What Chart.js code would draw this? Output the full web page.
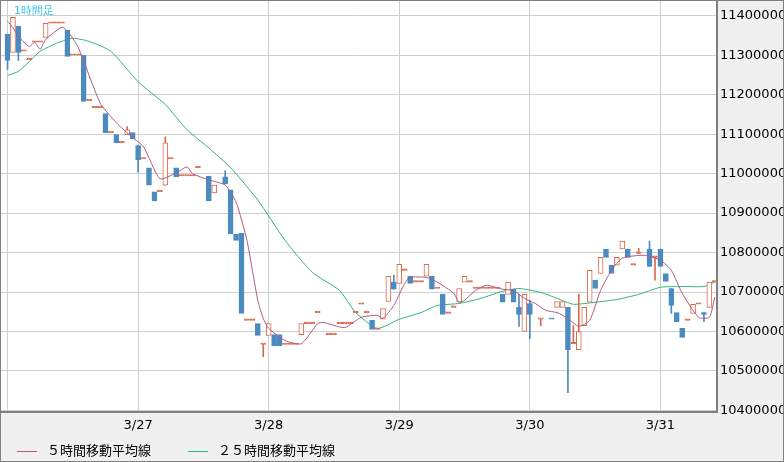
<!DOCTYPE html>
<html><head><meta charset="utf-8">
<script src="https://cdn.jsdelivr.net/npm/chart.js@4/dist/chart.umd.min.js"></script>
<style>
  html,body{margin:0;padding:0;background:#f0f0f0;}
  #wrap{position:relative;width:782px;height:460px;border:1px solid #808080;background:#f0f0f0;overflow:hidden;}
  canvas{position:absolute;left:0;top:-13px;}
  #title{position:absolute;left:13px;top:2px;font:11px "DejaVu Sans",sans-serif;color:#3cc0e8;}
  #legend{position:absolute;left:16px;top:439px;font:13px "Noto Sans CJK JP",sans-serif;color:#000;}
  .item{display:inline-block;margin-right:34px;}
  .sw{display:inline-block;width:20px;height:1px;vertical-align:middle;margin-right:10px;}
</style></head>
<body>
<div id="wrap">
  <canvas id="c" width="782" height="453"></canvas>
  <div id="title">1時間足</div>
  <div id="legend">
    <span class="item"><span class="sw" style="background:#b05a82"></span>５時間移動平均線</span>
    <span class="item"><span class="sw" style="background:#2fb57a"></span>２５時間移動平均線</span>
  </div>
</div>
<script>
// prices in thousands of yen, one slot per hour starting 3/26 00:00
const opens = [
  11353,11307,11373,11310,11289,11333,11333,11345,11381,11381,
  11381,11363,11300,11300,11300,11185,11167,11167,11152,11104,
  11099,11078,11099,11104,11071,11037,11015,10954,10954,10971,
  11037,11015,10994,10994,10994,11015,null,10994,10951,null,
  10992,10959,10847,10849,10628,10628,10620,10567,10590,10592,
  10592,10567,10567,10567,10592,10620,10620,10648,null,10592,
  10592,10620,10620,10620,10648,10669,10648,10628,10605,10631,
  10676,10725,10722,10755,10740,10725,10725,10740,10740,10709,
  10694,10646,10661,10674,10725,10725,10709,10709,10709,10709,
  10709,10694,10694,10707,10661,10600,10671,null,10631,null,
  10631,10661,10661,10661,10569,10554,10615,10674,10730,10747,
  10809,10768,10768,10809,10809,10768,10798,null,10809,10788,
  10809,10747,10709,10648,10608,10628,10646,10669,10648,10661,
  10725];
const closes = [
  11287,11396,11307,11310,11289,11333,11333,11381,11381,11381,
  11381,11297,11300,11300,11183,11185,11167,11167,11104,11104,
  11078,11078,11111,11088,11035,11037,10971,10931,10954,11078,
  11037,10992,10994,10994,10994,11015,null,10931,10971,null,
  10974,10847,10831,10646,10628,10628,10590,10567,10620,10564,
  10564,10567,10567,10567,10620,10620,10620,10648,null,10592,
  10592,10620,10620,10620,10648,10669,10648,10605,10605,10658,
  10740,10707,10770,10755,10722,10725,10725,10770,10707,10709,
  10643,10646,10661,10709,10740,10725,10709,10709,10709,10709,
  10709,10674,10725,10674,10643,10694,10643,null,10631,null,
  10631,10676,10676,10554,10569,10600,10661,10755,10709,10788,
  10788,10747,10788,10829,10788,10768,10798,null,10765,10788,
  10765,10727,10666,10625,10585,10628,10669,10669,10643,10725,
  10725];
// wick extremes only where they reach beyond the body: [slot, value]
const highs = [[22,11119],[29,11093],[40,11007],[71,10742],[94,10694],[96,10679],
  [104,10615],[105,10694],[116,10811],[118,10829]];
const lows = [[0,11264],[2,11287],[24,11004],[47,10536],[94,10613],[96,10582],
  [98,10615],[103,10445],[119,10730],[122,10646],[128,10625]];
const blueDojis = [100];

const ma5 = [[0,11386],[1,11370],[2,11348],[4,11322],[5,11333],[6,11315],[7,11340],
  [10,11371],[11,11361],[13,11320],[17,11180],[20,11129],[23,11091],[25,11068],
  [28,10987],[31,11002],[33,11017],[34,11000],[37,10984],[40,10971],[42,10928],
  [44,10831],[46,10679],[47,10633],[48,10608],[51,10577],[54,10569],[57,10620],
  [58,10623],[62,10610],[65,10636],[68,10641],[69,10633],[71,10666],[73,10722],
  [74,10737],[77,10737],[79,10725],[82,10697],[83,10674],[84,10679],[86,10704],
  [88,10717],[91,10707],[93,10704],[95,10684],[97,10671],[99,10653],[101,10648],
  [103,10633],[105,10613],[107,10628],[109,10704],[111,10755],[113,10786],
  [117,10793],[120,10781],[122,10755],[124,10697],[127,10636],[129,10636],[130,10687]];
const ma25 = [[0,11249],[2,11259],[4,11284],[6,11310],[9,11330],[12,11343],[15,11335],
  [19,11310],[24,11233],[29,11175],[33,11111],[37,11065],[41,11015],[46,10933],
  [51,10831],[56,10750],[61,10704],[64,10648],[68,10608],[72,10631],[76,10648],
  [79,10666],[83,10671],[87,10684],[91,10702],[94,10709],[98,10699],[101,10684],
  [104,10669],[108,10674],[112,10681],[116,10694],[120,10712],[124,10714],
  [128,10714],[130,10725]];

const xTicks = [0,24,48,72,96,120];
const xLabels = ['', '3/27', '3/28', '3/29', '3/30', '3/31'];
const yTicks = [10400,10500,10600,10700,10800,10900,11000,11100,11200,11300,11400];

const RED = '#d9694a', BLUE = '#4a8bc0';
const hiMap = Object.fromEntries(highs), loMap = Object.fromEntries(lows);

const bodies = [], wicks = [], bodyFill = [], bodyLine = [], wickCol = [];
opens.forEach((o, i) => {
  const c = closes[i];
  if (o == null) return;
  const col = c < o || blueDojis.includes(i) ? BLUE : RED;
  bodies.push({ x: i, y: [o, c] });
  bodyFill.push(c > o ? '#ffffff' : col);
  bodyLine.push(col);
  if (hiMap[i] != null || loMap[i] != null) {
    wicks.push({ x: i, y: [loMap[i] ?? Math.min(o, c), hiMap[i] ?? Math.max(o, c)] });
    wickCol.push(col);
  }
});

new Chart(document.getElementById('c'), {
  data: {
    datasets: [
      { type: 'line', data: ma25.map(([x, y]) => ({ x, y })), borderColor: '#2fb57a',
        borderWidth: 1, pointRadius: 0, tension: 0.2, order: 3 },
      { type: 'bar', data: wicks, backgroundColor: wickCol, barThickness: 1, grouped: false, order: 2 },
      { type: 'bar', data: bodies, backgroundColor: bodyFill, borderColor: bodyLine,
        borderWidth: 1, borderSkipped: false, barThickness: 5, minBarLength: 1.5, grouped: false, order: 1 },
      { type: 'line', data: ma5.map(([x, y]) => ({ x, y })), borderColor: '#b05a82',
        borderWidth: 1, pointRadius: 0, tension: 0.2, order: 0 },
    ],
  },
  options: {
    responsive: false, animation: false,
    layout: { padding: 0 },
    plugins: { legend: { display: false }, tooltip: { enabled: false } },
    scales: {
      x: {
        type: 'linear', min: -1.2, max: 130.4, offset: false,
        afterBuildTicks: (s) => { s.ticks = xTicks.map((v) => ({ value: v })); },
        afterFit: (s) => { s.height = 29; },
        grid: { color: '#cfcfcf', drawTicks: false, offset: false },
        border: { color: '#808080', width: 2 },
        ticks: { color: '#000', font: { size: 13, family: 'DejaVu Sans' }, padding: 6,
          callback: (v) => xLabels[xTicks.indexOf(v)] },
      },
      y: {
        position: 'right', min: 10396, max: 11443,
        afterBuildTicks: (s) => { s.ticks = yTicks.map((v) => ({ value: v })); },
        afterFit: (s) => { s.width = 66; },
        grid: { color: '#cfcfcf', drawTicks: false },
        border: { color: '#808080', width: 2 },
        ticks: { color: '#000', font: { size: 13, family: 'DejaVu Sans' }, padding: 3,
          callback: (v) => v + '000' },
      },
    },
  },
  plugins: [{
    id: 'plotBg',
    beforeDraw(chart) {
      const { ctx, chartArea: a } = chart;
      ctx.save(); ctx.fillStyle = '#ffffff';
      ctx.fillRect(a.left, a.top, a.right - a.left, a.bottom - a.top);
      ctx.restore();
    },
  }],
});
</script>
</body></html>
